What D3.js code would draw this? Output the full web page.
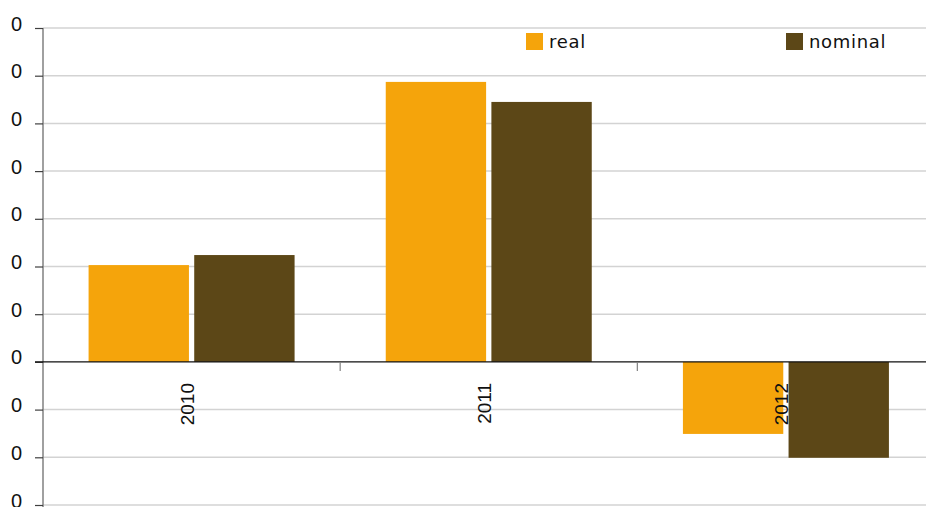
<!DOCTYPE html>
<html><head><meta charset="utf-8">
<script src="https://cdn.jsdelivr.net/npm/d3@7"></script>
<style>body{margin:0;background:#fff;}svg{display:block;}</style>
</head><body>
<svg id="chart" width="926" height="507"></svg>
<script>
const categories = ["2010", "2011", "2012"];
const seriesNames = ["real", "nominal"];
const realValues = [2.03, 5.87, -1.51];
const nominalValues = [2.24, 5.45, -2.01];
const tickValues = [-3, -2, -1, 0, 1, 2, 3, 4, 5, 6, 7];
const tickLabels = ["0", "0", "0", "0", "0", "0", "0", "0", "0", "0", "0"];
const colors = ["#f5a40b", "#5c4717"];

const svg = d3.select("#chart");
const x0 = d3.scaleBand().domain(categories).range([43, 934.5]).paddingInner(0).paddingOuter(0);
const y = d3.scaleLinear().domain([-3, 7]).range([505, 28]);
const x1 = d3.scaleBand().domain(seriesNames).range([-103, 103]).paddingInner(0.05);

// gridlines
svg.append("g").selectAll("line").data(tickValues.filter(v => v !== 0)).join("line")
  .attr("x1", 43).attr("x2", 926)
  .attr("y1", d => y(d)).attr("y2", d => y(d))
  .attr("stroke", "#d3d3d3").attr("stroke-width", 1.5);

// y axis
const yAxis = d3.axisLeft(y).tickValues(tickValues).tickSize(8).tickFormat((d, i) => tickLabels[i]);
const gy = svg.append("g").attr("transform", "translate(43,0)").call(yAxis);
gy.select(".domain").attr("stroke", "#808080").attr("stroke-width", 1.5).attr("d", `M0,${y(7)}V507`);
gy.selectAll(".tick line").attr("stroke", "#404040").attr("stroke-width", 1.2);
gy.selectAll(".tick text").attr("x", -21).attr("dy", "0.1em")
  .style("font-family", "Liberation Sans, Arial, sans-serif").style("font-size", "20px").attr("fill", "#111");

// bars
const data = categories.map((c, i) => ({cat: c, vals: [realValues[i], nominalValues[i]]}));
const groups = svg.append("g").selectAll("g").data(data).join("g")
  .attr("transform", d => `translate(${x0(d.cat) + x0.bandwidth() / 2},0)`);
groups.selectAll("rect").data(d => d.vals.map((v, j) => ({name: seriesNames[j], v, j}))).join("rect")
  .attr("x", d => x1(d.name))
  .attr("width", x1.bandwidth())
  .attr("y", d => Math.min(y(d.v), y(0)))
  .attr("height", d => Math.abs(y(d.v) - y(0)))
  .attr("fill", d => colors[d.j]);

// zero line & x ticks
svg.append("line").attr("x1", 35).attr("x2", 926).attr("y1", y(0)).attr("y2", y(0))
  .attr("stroke", "#111").attr("stroke-width", 1.3);
svg.append("g").selectAll("line").data(categories.slice(1)).join("line")
  .attr("x1", d => x0(d)).attr("x2", d => x0(d))
  .attr("y1", y(0)).attr("y2", y(0) + 9)
  .attr("stroke", "#808080").attr("stroke-width", 1.2);

// category labels
svg.append("g").selectAll("text").data(categories).join("text")
  .attr("transform", d => `translate(${x0(d) + x0.bandwidth() / 2 + 2},383) rotate(-90)`)
  .attr("text-anchor", "end")
  .style("font-family", "Liberation Sans, Arial, sans-serif").style("font-size", "19px")
  .attr("fill", "#111").text(d => d);

// legend
const legendX = [526, 786];
const lg = svg.append("g").selectAll("g").data(seriesNames).join("g")
  .attr("transform", (d, i) => `translate(${legendX[i]},33)`);
lg.append("rect").attr("width", 17).attr("height", 17).attr("fill", (d, i) => colors[i]);
lg.append("text").attr("x", 23).attr("y", 15)
  .style("font-family", "DejaVu Sans, sans-serif").style("font-size", "18px")
  .attr("letter-spacing", 0.7)
  .attr("fill", "#111").text(d => d);
</script>
</body></html>
